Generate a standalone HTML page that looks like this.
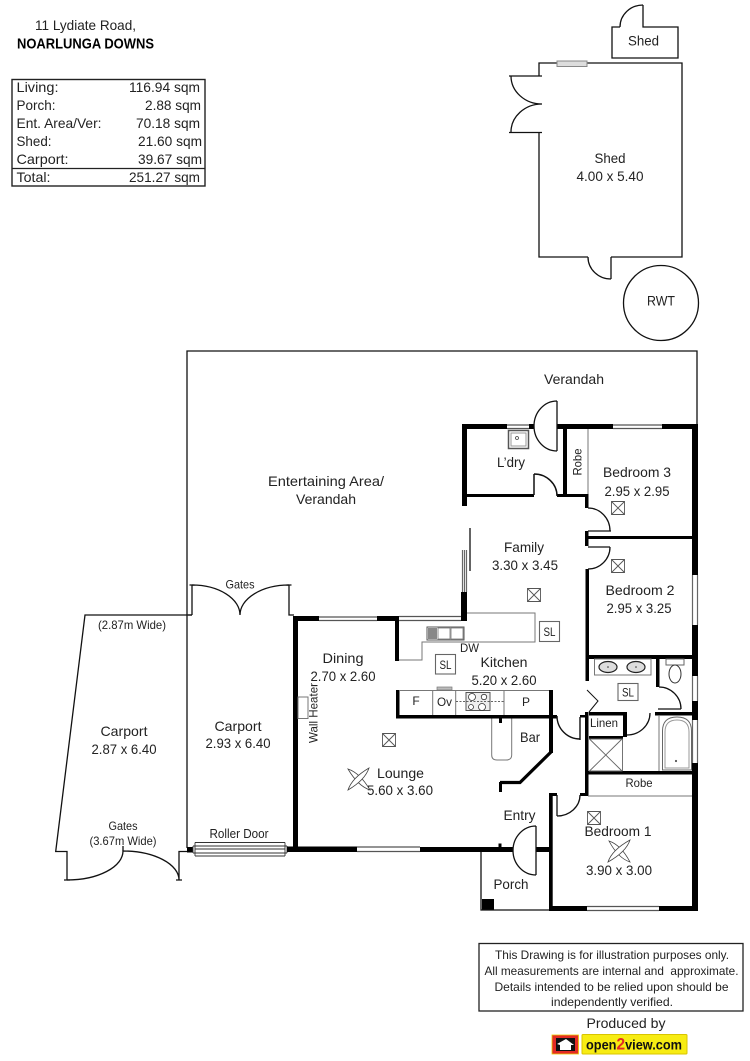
<!DOCTYPE html>
<html><head><meta charset="utf-8"><style>
html,body{margin:0;padding:0;background:#fff;width:750px;height:1061px;overflow:hidden}
svg{display:block}
text{font-family:"Liberation Sans",sans-serif;font-size:14px;fill:#222;text-anchor:middle}
.s{font-size:12px}
.l{text-anchor:start}
.r{text-anchor:end}
.t{fill:none;stroke:#111;stroke-width:1.3}
.g{fill:none;stroke:#777;stroke-width:1}
.w{fill:#000;stroke:none}
.win{fill:#fff;stroke:#888;stroke-width:1}
</style></head><body>
<svg width="750" height="1061" viewBox="0 0 750 1061" xmlns="http://www.w3.org/2000/svg">
<rect width="750" height="1061" fill="#fff"/>

<!-- header -->
<text x="85.500" y="30" textLength="101" lengthAdjust="spacingAndGlyphs">11 Lydiate Road,</text>
<text x="85.500" y="48.500" textLength="137" lengthAdjust="spacingAndGlyphs" style="font-weight:bold;fill:#000;font-size:15px">NOARLUNGA DOWNS</text>

<!-- table -->
<rect x="12" y="79.500" width="193" height="106.500" fill="none" stroke="#222" stroke-width="1.400"/>
<line x1="12" x2="205" y1="168.500" y2="168.500" stroke="#222" stroke-width="1.300"/>
<g>
<text class="l" x="16.500" y="92" textLength="42" lengthAdjust="spacingAndGlyphs">Living:</text>
<text class="l" x="16.500" y="110" textLength="39" lengthAdjust="spacingAndGlyphs">Porch:</text>
<text class="l" x="16.500" y="128" textLength="85" lengthAdjust="spacingAndGlyphs">Ent. Area/Ver:</text>
<text class="l" x="16.500" y="146" textLength="35" lengthAdjust="spacingAndGlyphs">Shed:</text>
<text class="l" x="16.500" y="164" textLength="52" lengthAdjust="spacingAndGlyphs">Carport:</text>
<text class="l" x="16.500" y="182" textLength="34" lengthAdjust="spacingAndGlyphs">Total:</text>
<text class="r" x="200" y="92" textLength="71" lengthAdjust="spacingAndGlyphs">116.94 sqm</text>
<text class="r" x="201" y="110" textLength="56" lengthAdjust="spacingAndGlyphs">2.88 sqm</text>
<text class="r" x="200" y="128" textLength="64" lengthAdjust="spacingAndGlyphs">70.18 sqm</text>
<text class="r" x="202" y="146" textLength="64" lengthAdjust="spacingAndGlyphs">21.60 sqm</text>
<text class="r" x="202" y="164" textLength="64" lengthAdjust="spacingAndGlyphs">39.67 sqm</text>
<text class="r" x="200" y="182" textLength="71" lengthAdjust="spacingAndGlyphs">251.27 sqm</text>
</g>

<!-- small shed -->
<path class="t" d="M620 27H612V58H678V27H643V5"/>
<path class="t" d="M620 27A23 22 0 0 1 643 5"/>
<text x="643.500" y="45.500" textLength="31" lengthAdjust="spacingAndGlyphs">Shed</text>

<!-- main shed -->
<path class="t" d="M557 63H539V76M509 76H542M509 132.500H542M539 132.500V257H588M611 257H682V63H587M611 257V279"/>
<rect class="win" x="557" y="61" width="30" height="5.500" style="fill:#ddd"/>
<path class="t" d="M511 76A31 28 0 0 0 542 104A31 28 0 0 0 511 132.500"/>
<path class="t" d="M588 257A23 22 0 0 0 611 279"/>
<text x="610" y="163" textLength="31" lengthAdjust="spacingAndGlyphs">Shed</text>
<text x="610" y="181" textLength="67" lengthAdjust="spacingAndGlyphs">4.00 x 5.40</text>
<circle class="t" cx="661" cy="303" r="37.500"/>
<text x="661" y="305.500" textLength="28" lengthAdjust="spacingAndGlyphs">RWT</text>

<!-- verandah outline -->
<path class="t" d="M187 848V351H697V425"/>
<text x="574" y="384" textLength="60" lengthAdjust="spacingAndGlyphs">Verandah</text>
<text x="326" y="486" textLength="116" lengthAdjust="spacingAndGlyphs">Entertaining Area/</text>
<text x="326" y="504" textLength="60" lengthAdjust="spacingAndGlyphs">Verandah</text>

<!-- carports -->
<path class="t" d="M192 615H85L55.700 851.500H67V880M67 880A56 29 0 0 0 123 851A56 29 0 0 1 179 880M179 880V851.500H188"/>
<path class="t" d="M192 615V585M192 585A48 30 0 0 1 240 615A49 30 0 0 1 289 585M240 615V610M289 585V615H294"/>
<path class="t" d="M188 615H192"/>
<path class="t" d="M123 851V846"/>
<path class="t" d="M64 880H70M176 880H182M189.500 585H194.500M286.500 585H291.500"/>
<text class="s" x="240" y="588.500" textLength="29" lengthAdjust="spacingAndGlyphs">Gates</text>
<text class="s" x="132" y="629" textLength="68" lengthAdjust="spacingAndGlyphs">(2.87m Wide)</text>
<text x="124" y="736" textLength="47" lengthAdjust="spacingAndGlyphs">Carport</text>
<text x="124" y="754" textLength="65" lengthAdjust="spacingAndGlyphs">2.87 x 6.40</text>
<text x="238" y="731" textLength="47" lengthAdjust="spacingAndGlyphs">Carport</text>
<text x="238" y="748" textLength="65" lengthAdjust="spacingAndGlyphs">2.93 x 6.40</text>
<text class="s" x="123" y="830" textLength="29" lengthAdjust="spacingAndGlyphs">Gates</text>
<text class="s" x="123" y="845" textLength="67" lengthAdjust="spacingAndGlyphs">(3.67m Wide)</text>
<text class="s" x="239" y="838" textLength="59" lengthAdjust="spacingAndGlyphs" style="font-size:13px">Roller Door</text>
<!-- roller door -->
<rect class="w" x="187" y="847" width="6" height="5.500"/>
<path d="M193 846H287M195 842.500H285M195 856H285M195 849H285M193 853H287M195 842.500V856M285 842.500V856M193 846V853M287 846V853" fill="none" stroke="#333" stroke-width=".9"/>

<!-- thick walls -->
<g class="w">
<rect x="293" y="616" width="5" height="236"/>
<rect x="293" y="616" width="26" height="5"/>
<rect x="377" y="616" width="22" height="5"/>
<rect x="461" y="592" width="6" height="29"/>
<rect x="287" y="846.500" width="70" height="5.500"/>
<rect x="420" y="847" width="93" height="5"/>
<rect x="536" y="847" width="16" height="5"/>
<rect x="498.500" y="843.500" width="3" height="4"/>
<rect x="395" y="616" width="4" height="45"/>
<rect x="396" y="690" width="3.500" height="28"/>
<rect x="396" y="715" width="161" height="3.500"/>
<rect x="549" y="690" width="4" height="63"/>
<rect x="499" y="718" width="3" height="5"/>
<rect x="499" y="782" width="3" height="10"/>
<rect x="462" y="424" width="5" height="82"/>
<rect x="462" y="424" width="45" height="5"/>
<rect x="529" y="424" width="5" height="5"/>
<rect x="557" y="424" width="56" height="5"/>
<rect x="662" y="424" width="36" height="5"/>
<rect x="692" y="424" width="6" height="151"/>
<rect x="692" y="625" width="6" height="51"/>
<rect x="692" y="701" width="6" height="19"/>
<rect x="692" y="763" width="6" height="148"/>
<rect x="563" y="429" width="4" height="68"/>
<rect x="467" y="494" width="67" height="3"/>
<rect x="557" y="494" width="31" height="3"/>
<rect x="585" y="494" width="3.500" height="14"/>
<rect x="585" y="531" width="3.500" height="15"/>
<rect x="585" y="536" width="107" height="3"/>
<rect x="585.500" y="569" width="3.500" height="112"/>
<rect x="589" y="655" width="103" height="4"/>
<rect x="656" y="659" width="3.500" height="28"/>
<rect x="655" y="712" width="37" height="3.500"/>
<rect x="589" y="712" width="38" height="3.500"/>
<rect x="623" y="712" width="4" height="25"/>
<rect x="585" y="712" width="3.500" height="84"/>
<rect x="580" y="715" width="8" height="2.500"/>
<rect x="589" y="736" width="34" height="3"/>
<rect x="585" y="771" width="107" height="3.500"/>
<rect x="580" y="793" width="8.500" height="3"/>
<rect x="549" y="793" width="8" height="3"/>
<rect x="549" y="793" width="3.700" height="118"/>
<rect x="549" y="906" width="38" height="5"/>
<rect x="659" y="906" width="39" height="5"/>
<rect x="482" y="899" width="12" height="11"/>
<rect x="553" y="715" width="4" height="3.500"/>
</g>
<path d="M551 752L520 782.500H500" fill="none" stroke="#000" stroke-width="3.200"/>

<!-- windows -->
<path d="M319 617H377M319 620.500H377M399 616.500H461M399 620.500H461M357 847H420M357 851.500H420M507 425H529M507 428.500H529M613 425H662M613 428.500H662M587 906.500H659M587 910.500H659" fill="none" stroke="#555" stroke-width="1.200"/>
<path d="M692.500 575V625M697.500 575V625M692.500 676V701M697.500 676V701M692.500 720V763M697.500 720V763M462.500 550V592M466.500 550V592M464.500 550V592" fill="none" stroke="#666" stroke-width="1.200"/>
<path class="t" d="M470 528V571"/>

<!-- doors -->
<path class="t" d="M557 401V451M557 401A23 25 0 0 0 557 451"/>
<path class="t" d="M534 474V495M534 474A23 22 0 0 1 557 496" style="stroke-width:1.500"/>
<path class="t" d="M588 508A22 23 0 0 1 610 531M588 531H611"/>
<path class="t" d="M610 547A22 22 0 0 1 588 569M588 547H610"/>
<path class="t" d="M557 716A23 23 0 0 0 580 739M580 717V740" style="stroke-width:1.400"/>
<path class="t" d="M659 687A22 22 0 0 1 681 709M658 709H681"/>
<path class="t" d="M650 713A23 22 0 0 1 627 735"/>
<path class="t" d="M580 795A23 21 0 0 1 557 816M557 795V816"/>
<path class="t" d="M536 826V875M536 826A23 24.500 0 0 0 536 875"/>
<path class="t" d="M587 690L598 701L589 712" style="stroke-width:1"/>

<!-- porch -->
<path class="t" d="M481 852V910H549"/>
<text x="511" y="889" textLength="35" lengthAdjust="spacingAndGlyphs">Porch</text>
<text x="519.500" y="820" textLength="32" lengthAdjust="spacingAndGlyphs">Entry</text>

<!-- L'dry trough -->
<rect x="508.500" y="430.500" width="20" height="18" fill="none" stroke="#555" stroke-width="1.500"/>
<rect x="511" y="433" width="15" height="13" fill="none" stroke="#999" stroke-width="1"/>
<circle cx="517" cy="438" r="1.500" fill="none" stroke="#444" stroke-width=".8"/>

<!-- robe b3 -->
<path class="g" d="M588 429V494"/>
<line x1="588" x2="692" y1="796" y2="796" stroke="#777" stroke-width="1"/>

<!-- kitchen -->
<path class="g" d="M467 613H535V642H422V660H399"/>
<rect x="427" y="627" width="37" height="13" fill="none" stroke="#555" stroke-width="1"/>
<rect x="428" y="628" width="9" height="11" fill="#888"/>
<rect x="438" y="628" width="12" height="11" fill="#fff" stroke="#777" stroke-width=".8"/>
<rect x="451" y="628" width="12" height="11" fill="#fff" stroke="#777" stroke-width=".8"/>
<path class="g" d="M399 690.500H549M432.700 690V715M455.700 690V715M504 690V715"/>
<rect x="437" y="687" width="15" height="3" fill="#bbb" stroke="#777" stroke-width=".7"/>
<rect x="466" y="692.500" width="24" height="18" fill="#eee" stroke="#555" stroke-width="1"/>
<circle cx="472" cy="697" r="3.500" fill="#fff" stroke="#333" stroke-width=".8"/>
<circle cx="484" cy="697" r="2.700" fill="#fff" stroke="#333" stroke-width=".8"/>
<circle cx="471" cy="707" r="2.500" fill="#fff" stroke="#333" stroke-width=".8"/>
<circle cx="482" cy="707" r="3.500" fill="#fff" stroke="#333" stroke-width=".8"/>
<path d="M456 701.500H504" stroke="#333" stroke-width=".8" stroke-dasharray="2 1.500" fill="none"/>
<path class="g" d="M491.700 718.500V755Q491.700 760 497 760H506Q511.700 760 511.700 755V718.500"/>
<rect x="539.500" y="621.500" width="20" height="20" fill="none" stroke="#666" stroke-width="1.100"/>
<rect x="435.500" y="654.500" width="20" height="19.500" fill="none" stroke="#666" stroke-width="1.100"/>
<rect x="618" y="683.500" width="20" height="17" fill="none" stroke="#666" stroke-width="1.100"/>
<text class="s" x="549.500" y="636" textLength="12" lengthAdjust="spacingAndGlyphs">SL</text>
<text class="s" x="445.500" y="669" textLength="12" lengthAdjust="spacingAndGlyphs">SL</text>
<text class="s" x="628" y="696.500" textLength="12" lengthAdjust="spacingAndGlyphs">SL</text>
<text class="s" x="469.500" y="652" textLength="19" lengthAdjust="spacingAndGlyphs">DW</text>
<text x="504" y="667" textLength="47" lengthAdjust="spacingAndGlyphs">Kitchen</text>
<text x="504" y="685" textLength="65" lengthAdjust="spacingAndGlyphs">5.20 x 2.60</text>
<text class="s" x="416" y="705">F</text>
<text class="s" x="444.500" y="706" textLength="15" lengthAdjust="spacingAndGlyphs">Ov</text>
<text class="s" x="526" y="706">P</text>
<text x="530" y="742" textLength="20" lengthAdjust="spacingAndGlyphs">Bar</text>

<!-- dining/lounge -->
<text x="343" y="663" textLength="41" lengthAdjust="spacingAndGlyphs">Dining</text>
<text x="343" y="681" textLength="65" lengthAdjust="spacingAndGlyphs">2.70 x 2.60</text>
<rect x="298" y="697" width="10" height="21.500" fill="none" stroke="#777" stroke-width="1"/>
<text class="s" transform="translate(317.500 713) rotate(-90)" textLength="60" lengthAdjust="spacingAndGlyphs">Wall Heater</text>
<text x="400.500" y="778" textLength="47" lengthAdjust="spacingAndGlyphs">Lounge</text>
<text x="400" y="795" textLength="66" lengthAdjust="spacingAndGlyphs">5.60 x 3.60</text>

<!-- light boxes -->
<g fill="none" stroke="#555" stroke-width=".9">
<path d="M611.500 501.500h13v13h-13zM611.500 501.500l13 13M624.500 501.500l-13 13"/>
<path d="M611.500 559.500h13v13h-13zM611.500 559.500l13 13M624.500 559.500l-13 13"/>
<path d="M527.500 588.500h13v13h-13zM527.500 588.500l13 13M540.500 588.500l-13 13"/>
<path d="M382.500 733.500h13v13h-13zM382.500 733.500l13 13M395.500 733.500l-13 13"/>
<path d="M587.500 811.500h13v13h-13zM587.500 811.500l13 13M600.500 811.500l-13 13"/>
</g>

<!-- fans -->
<g fill="#fff" stroke="#444" stroke-width=".8">
<path d="M348 769Q360 773 370 790Q358 786 348 769Z"/>
<path d="M369 768Q365 780 348 790Q352 778 369 768Z"/>
<path d="M609 841Q621 845 630 862Q618 858 609 841Z"/>
<path d="M630 840Q626 852 608 862Q612 850 630 840Z"/>
</g>

<!-- bedrooms -->
<text x="637" y="477" textLength="68" lengthAdjust="spacingAndGlyphs">Bedroom 3</text>
<text x="637" y="496" textLength="65" lengthAdjust="spacingAndGlyphs">2.95 x 2.95</text>
<text x="640" y="595" textLength="69" lengthAdjust="spacingAndGlyphs">Bedroom 2</text>
<text x="639" y="613" textLength="65" lengthAdjust="spacingAndGlyphs">2.95 x 3.25</text>
<text x="618" y="836" textLength="67" lengthAdjust="spacingAndGlyphs">Bedroom 1</text>
<text x="619" y="875" textLength="66" lengthAdjust="spacingAndGlyphs">3.90 x 3.00</text>
<text x="524" y="552" textLength="40" lengthAdjust="spacingAndGlyphs">Family</text>
<text x="525" y="570" textLength="66" lengthAdjust="spacingAndGlyphs">3.30 x 3.45</text>
<text x="511" y="467" textLength="28" lengthAdjust="spacingAndGlyphs">L’dry</text>
<text class="s" transform="translate(581.500 462) rotate(-90)" textLength="27" lengthAdjust="spacingAndGlyphs">Robe</text>

<!-- ensuite -->
<rect x="594.500" y="659" width="56.500" height="16" fill="none" stroke="#777" stroke-width="1"/>
<ellipse cx="608" cy="667" rx="9" ry="5.500" fill="#ddd" stroke="#222" stroke-width="1.200"/>
<ellipse cx="636" cy="667" rx="9" ry="5.500" fill="#ddd" stroke="#222" stroke-width="1.200"/>
<circle cx="608" cy="667" r=".8" fill="#333"/>
<circle cx="636" cy="667" r=".8" fill="#333"/>
<rect x="666" y="659" width="18" height="6" fill="none" stroke="#666" stroke-width="1"/>
<ellipse cx="675" cy="674" rx="6" ry="9" fill="none" stroke="#333" stroke-width="1"/>
<path class="g" d="M659 715V771"/>
<path d="M662.500 770V731Q662.500 717 677 717Q691.500 717 691.500 731V770Z" fill="none" stroke="#666" stroke-width="1"/>
<path d="M665 768V732Q665 720 677 720Q689 720 689 732V768Z" fill="none" stroke="#999" stroke-width="1"/>
<circle cx="676" cy="761" r="1.100" fill="#555"/>
<path d="M589 739H622.500V771M589 771H622.500M589.500 771L622 739M589.500 739L622 771" fill="none" stroke="#666" stroke-width=".9"/>
<text class="s" x="604" y="727" textLength="28" lengthAdjust="spacingAndGlyphs">Linen</text>
<text class="s" x="639" y="787" textLength="27" lengthAdjust="spacingAndGlyphs">Robe</text>

<!-- disclaimer -->
<rect x="479" y="943.500" width="264" height="67.500" fill="#fff" stroke="#222" stroke-width="1.300"/>
<g>
<text style="font-size:12px" x="612" y="959" textLength="234" lengthAdjust="spacingAndGlyphs">This Drawing is for illustration purposes only.</text>
<text style="font-size:12px" x="611.500" y="975" textLength="254" lengthAdjust="spacingAndGlyphs" xml:space="preserve">All measurements are internal and  approximate.</text>
<text style="font-size:12px" x="611.500" y="991" textLength="234" lengthAdjust="spacingAndGlyphs">Details intended to be relied upon should be</text>
<text style="font-size:12px" x="612" y="1006" textLength="122" lengthAdjust="spacingAndGlyphs">independently verified.</text>
</g>
<text x="626" y="1028" textLength="79" lengthAdjust="spacingAndGlyphs">Produced by</text>

<!-- logo -->
<rect x="552" y="1035" width="26.500" height="19" fill="#e32b24" stroke="#e8c700" stroke-width=".8"/>
<rect x="556" y="1038" width="19" height="13" fill="#111"/>
<path d="M557 1044L566 1039L574 1045H571V1050H560V1045Z" fill="#fff"/>
<rect x="582" y="1034.500" width="105" height="19.500" rx="1" fill="#f7ec13" stroke="#d8c400" stroke-width="1"/>
<text x="634" y="1049.500" textLength="96" lengthAdjust="spacingAndGlyphs" style="font-weight:bold;font-size:14px;fill:#111">open<tspan style="fill:#e32b24;font-size:17px">2</tspan>view.com</text>
</svg>
</body></html>
